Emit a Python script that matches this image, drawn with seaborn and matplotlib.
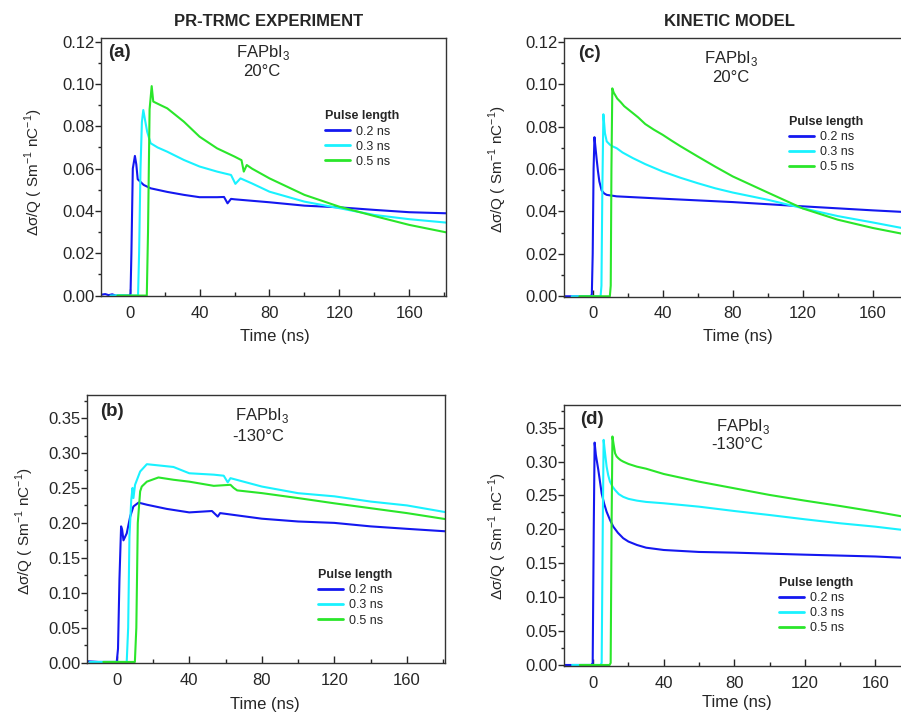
import pandas as pd
import numpy as np
import seaborn as sns
import matplotlib.pyplot as plt
from matplotlib.ticker import MultipleLocator, FormatStrFormatter

# pulse lengths and colours
pulses = ["0.2 ns", "0.3 ns", "0.5 ns"]
colors = {"0.2 ns": "#1418f0", "0.3 ns": "#19f2ff", "0.5 ns": "#2ae62a"}

# ---- (a) PR-TRMC experiment, 20 C ----
a_t_02 = [-16.4, -14, -12, -10, -8, 0.0, 0.5, 1.0, 1.8, 3.0, 3.8, 4.6, 8, 12, 21.5, 31, 40, 50, 54, 56, 58, 60, 80, 100, 120, 140, 160, 181]
a_y_02 = [0.0004, 0.0007, 0.0002, 0.0006, 0.0, 0.0, 0.001, 0.02, 0.060, 0.066, 0.062, 0.055, 0.0523, 0.0507, 0.049, 0.0476, 0.0465, 0.0465, 0.0466, 0.0436, 0.0457, 0.0455, 0.0441, 0.0425, 0.0417, 0.0405, 0.0394, 0.0389]
a_t_03 = [-11, -5, 0, 4.8, 5.4, 6.2, 7.0, 7.8, 8.8, 10, 12, 16, 21.5, 31, 40, 50, 58, 60.5, 63.4, 70, 80, 100, 120, 140, 160, 181]
a_y_03 = [0.0, 0.0002, 0.0, 0.0, 0.02, 0.06, 0.082, 0.0877, 0.083, 0.0775, 0.072, 0.070, 0.068, 0.0641, 0.061, 0.0586, 0.057, 0.0528, 0.0554, 0.053, 0.0491, 0.0444, 0.0413, 0.0381, 0.0361, 0.0345]
a_t_05 = [-7, 0, 5, 9.8, 10.5, 11.4, 12.6, 13.5, 17.7, 21.5, 31, 40, 50, 60, 64, 65.3, 67, 70, 80, 100, 120, 140, 160, 181]
a_y_05 = [0.0, 0.0, 0.0, 0.0, 0.03, 0.088, 0.099, 0.0917, 0.090, 0.0885, 0.0822, 0.0751, 0.0696, 0.0657, 0.064, 0.0586, 0.0617, 0.060, 0.0554, 0.0476, 0.042, 0.0376, 0.0334, 0.0299]

# ---- (b) PR-TRMC experiment, -130 C ----
b_t_02 = [-16.4, -10, -4, 0.0, 0.7, 1.5, 2.4, 3.0, 3.7, 5.5, 7.4, 9.2, 12, 16.6, 27.6, 40, 52.5, 55.7, 57, 80, 100, 120, 140, 160, 181]
b_y_02 = [0.002, 0.001, 0.001, 0.001, 0.02, 0.12, 0.195, 0.19, 0.175, 0.185, 0.209, 0.2235, 0.229, 0.226, 0.220, 0.215, 0.217, 0.209, 0.214, 0.206, 0.202, 0.200, 0.195, 0.1915, 0.188]
b_t_03 = [-15, 0, 5.5, 6.3, 7.0, 8.0, 8.7, 9.2, 10.1, 12.9, 16.6, 24, 31.3, 40, 53.5, 59, 61.2, 62.7, 80, 100, 120, 140, 160, 181]
b_y_03 = [0.001, 0.001, 0.001, 0.05, 0.18, 0.233, 0.25, 0.2355, 0.2545, 0.2735, 0.284, 0.282, 0.280, 0.271, 0.269, 0.2675, 0.258, 0.264, 0.252, 0.2425, 0.238, 0.2305, 0.225, 0.2155]
b_t_05 = [-7.4, 0, 10.0, 10.8, 11.6, 12.9, 13.8, 16.6, 23, 31.3, 40, 53.5, 62.7, 64.5, 66.4, 80, 100, 120, 140, 160, 181]
b_y_05 = [0.001, 0.001, 0.001, 0.05, 0.2, 0.245, 0.252, 0.259, 0.265, 0.2617, 0.259, 0.253, 0.2545, 0.25, 0.2465, 0.2426, 0.2355, 0.228, 0.221, 0.214, 0.2055]

# ---- (c) kinetic model, 20 C ----
c_t_02 = [-16.4, -1.0, -0.5, 0.0, 0.5, 1.0, 1.6, 2.3, 3.0, 3.8, 5.1, 6.5, 8, 13.7, 40, 80, 120, 160, 181]
c_y_02 = [0.0, 0.0, 0.001, 0.02, 0.06, 0.075, 0.070, 0.0643, 0.059, 0.0541, 0.0499, 0.0485, 0.0478, 0.0471, 0.046, 0.0444, 0.0424, 0.0405, 0.0396]
c_t_03 = [-12, 4.5, 5.0, 5.5, 6.1, 6.6, 7.0, 8.0, 9.9, 11.5, 13.7, 17, 23, 30, 40, 50, 60, 70, 80, 100, 120, 140, 160, 181]
c_y_03 = [0.0, 0.0, 0.005, 0.05, 0.0858, 0.081, 0.0769, 0.073, 0.0714, 0.0706, 0.0698, 0.0678, 0.0651, 0.0623, 0.0588, 0.0559, 0.0533, 0.0509, 0.0489, 0.0455, 0.0415, 0.0378, 0.0348, 0.0315]
c_t_05 = [-7.6, 9.8, 10.3, 10.7, 11.2, 12.0, 12.8, 14, 16, 18, 23, 26, 30, 35, 40, 45, 50, 60, 70, 80, 100, 120, 140, 160, 181]
c_y_05 = [0.0, 0.0, 0.005, 0.06, 0.098, 0.096, 0.0949, 0.0932, 0.0915, 0.0896, 0.0863, 0.0843, 0.0812, 0.0785, 0.0761, 0.0734, 0.0708, 0.0659, 0.0611, 0.0565, 0.0489, 0.0414, 0.0361, 0.0322, 0.0288]

# ---- (d) kinetic model, -130 C ----
d_t_02 = [-16.4, -1.0, -0.3, 0.3, 0.8, 1.5, 2.9, 4.8, 6.2, 7.6, 9.5, 11.4, 14, 17, 20, 24.8, 30, 40, 60, 80, 120, 160, 181]
d_y_02 = [0.0, 0.0, 0.003, 0.2, 0.328, 0.31, 0.2876, 0.253, 0.238, 0.226, 0.214, 0.204, 0.195, 0.187, 0.182, 0.177, 0.173, 0.1696, 0.1667, 0.1657, 0.1627, 0.160, 0.1575]
d_t_03 = [-12, 4.2, 4.8, 5.4, 5.9, 6.6, 7.6, 8.5, 9.5, 11, 12.4, 14.5, 17, 20, 24.8, 30, 40, 60, 80, 100, 120, 140, 160, 181]
d_y_03 = [0.0, 0.0, 0.003, 0.2, 0.332, 0.315, 0.2926, 0.280, 0.2704, 0.263, 0.258, 0.252, 0.248, 0.245, 0.2424, 0.2405, 0.2385, 0.2335, 0.2271, 0.2212, 0.2149, 0.209, 0.204, 0.1975]
d_t_05 = [-7.6, 9.3, 9.9, 10.4, 10.9, 11.6, 12.4, 13.3, 14.3, 15.5, 17, 20, 24.8, 30, 40, 60, 80, 100, 120, 140, 160, 181]
d_y_05 = [0.0, 0.0, 0.003, 0.2, 0.337, 0.325, 0.3122, 0.3075, 0.3048, 0.3022, 0.300, 0.2965, 0.2925, 0.2895, 0.2817, 0.2704, 0.2606, 0.2508, 0.2424, 0.2345, 0.2261, 0.2165]


def make_df(ts, ys):
    parts = []
    for p, t, y in zip(pulses, ts, ys):
        parts.append(pd.DataFrame({"time": t, "signal": y, "pulse": p}))
    return pd.concat(parts, ignore_index=True)


sns.set_style("ticks")
plt.rcParams["font.family"] = ["Liberation Sans", "DejaVu Sans"]
plt.rcParams["axes.edgecolor"] = "#333333"

fig = plt.figure(figsize=(9.01, 7.13), dpi=100)
W, H = 901.0, 713.0

# panels: data, axes rect (px: left, top, right, bottom), ylim, y step, label, temp, text pos, legend pos
panels = [
    (make_df([a_t_02, a_t_03, a_t_05], [a_y_02, a_y_03, a_y_05]), (101, 38.3, 446, 296), (-0.0002, 0.1216), 0.02,
     "(a)", "20°C", (0.02, 0.943), (0.47, 0.943), (0.467, 0.873), (0.65, 0.72)),
    (make_df([b_t_02, b_t_03, b_t_05], [b_y_02, b_y_03, b_y_05]), (87, 395, 445, 663), (-0.0005, 0.383), 0.05,
     "(b)", "-130°C", (0.036, 0.938), (0.488, 0.925), (0.478, 0.844), (0.645, 0.35)),
    (make_df([c_t_02, c_t_03, c_t_05], [c_y_02, c_y_03, c_y_05]), (564, 38.3, 909.5, 296.7), (-0.0002, 0.1216), 0.02,
     "(c)", "20°C", (0.041, 0.942), (0.485, 0.922), (0.483, 0.849), (0.65, 0.70)),
    (make_df([d_t_02, d_t_03, d_t_05], [d_y_02, d_y_03, d_y_05]), (564.3, 405.3, 912.3, 666), (-0.0015, 0.383), 0.05,
     "(d)", "-130°C", (0.045, 0.944), (0.513, 0.918), (0.497, 0.848), (0.617, 0.342)),
]

for df, (l, t, r, b), ylim, ystep, lab, temp, lab_pos, fa_pos, temp_pos, leg_pos in panels:
    ax = fig.add_axes([l / W, 1 - b / H, (r - l) / W, (b - t) / H])
    sns.lineplot(data=df, x="time", y="signal", hue="pulse", palette=colors,
                 estimator=None, sort=False, linewidth=1.5, ax=ax)
    ax.set_xlim(-16.4, 181)
    ax.set_ylim(*ylim)
    ax.xaxis.set_major_locator(MultipleLocator(40))
    ax.xaxis.set_minor_locator(MultipleLocator(20))
    ax.yaxis.set_major_locator(MultipleLocator(ystep))
    ax.yaxis.set_minor_locator(MultipleLocator(ystep / 2))
    ax.yaxis.set_major_formatter(FormatStrFormatter("%.2f"))
    ax.tick_params(axis="x", which="both", direction="in", labelsize=12, pad=7, width=1)
    ax.tick_params(axis="x", which="major", length=5)
    ax.tick_params(axis="x", which="minor", length=3)
    ax.tick_params(axis="y", which="both", direction="out", labelsize=12, pad=0.5, width=1)
    ax.tick_params(axis="y", which="major", length=4)
    ax.tick_params(axis="y", which="minor", length=2.5)
    for s in ax.spines.values():
        s.set_linewidth(1.0)
    ax.set_xlabel("")
    ax.set_ylabel("")
    ax.text(lab_pos[0], lab_pos[1], lab, transform=ax.transAxes, fontsize=13.5,
            fontweight="bold", ha="left", va="center")
    ax.text(fa_pos[0], fa_pos[1], r"FAPbI$_{\mathregular{3}}$", transform=ax.transAxes,
            fontsize=12, ha="center", va="center")
    ax.text(temp_pos[0], temp_pos[1], temp, transform=ax.transAxes, fontsize=12,
            ha="center", va="center")
    leg = ax.legend(title="Pulse length", loc="upper left", bbox_to_anchor=leg_pos,
                    frameon=False, fontsize=9, title_fontproperties={"weight": "bold", "size": 9},
                    handlelength=2.0, handletextpad=0.5, labelspacing=0.25,
                    borderpad=0, borderaxespad=0, alignment="left")
    for line in leg.get_lines():
        line.set_linewidth(2.0)

# axis labels
ylab = r"Δσ/Q ( Sm$^{\mathregular{-1}}$ nC$^{\mathregular{-1}}$)"
for x, y in [(34, 172), (24.5, 531), (497.5, 169), (497.5, 536.7)]:
    fig.text(x / W, 1 - y / H, ylab, rotation=90, ha="center", va="center", fontsize=11)
for x, y in [(275, 337), (265, 704), (738, 337), (737, 703)]:
    fig.text(x / W, 1 - y / H, "Time (ns)", ha="center", va="center", fontsize=12)

fig.text(269 / W, 1 - 22 / H, "PR-TRMC EXPERIMENT", ha="center", va="center",
         fontsize=12, fontweight="bold")
fig.text(729 / W, 1 - 22 / H, "KINETIC MODEL", ha="center", va="center",
         fontsize=12, fontweight="bold")

fig.savefig("out.png", dpi=100)
